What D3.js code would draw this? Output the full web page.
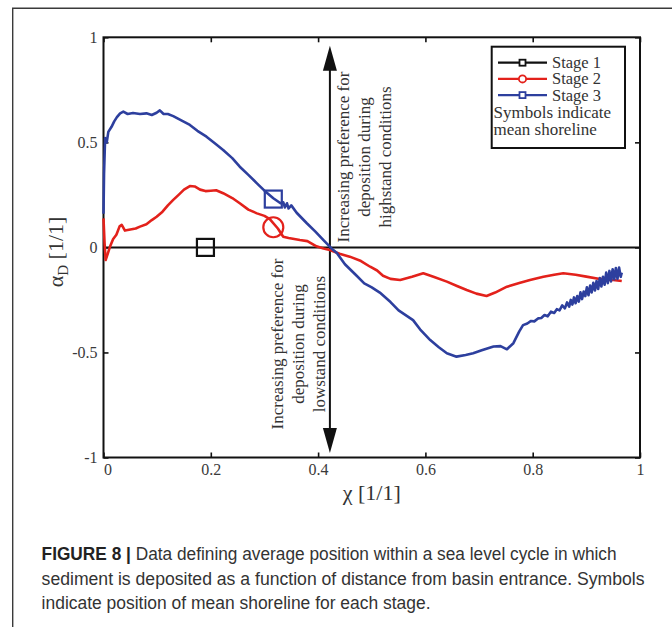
<!DOCTYPE html>
<html>
<head>
<meta charset="utf-8">
<script src="https://cdn.jsdelivr.net/npm/d3@7"></script>
<style>
  body { margin: 0; background: #fff; }
  svg { display: block; }
</style>
</head>
<body>
<div id="chart"></div>
<script>
// tick values
var xTicks = [0, 0.2, 0.4, 0.6, 0.8, 1];
var yTicks = [-1, -0.5, 0, 0.5, 1];

var stages = ["Stage 1", "Stage 2", "Stage 3"];
var stageColors = ["#111111", "#e3211b", "#2d3f9e"];

// Stage 1 sits on zero
var stage1X = [0, 1];
var stage1Y = [0, 0];

// Stage 2 (red)
var stage2X = [0.000, 0.002, 0.004, 0.008, 0.012, 0.018, 0.024, 0.030, 0.034, 0.040, 0.050, 0.060, 0.068, 0.080, 0.090,
  0.099, 0.110, 0.120, 0.130, 0.140, 0.150, 0.161, 0.170, 0.180, 0.190, 0.200, 0.210, 0.223, 0.240, 0.254,
  0.270, 0.286, 0.300, 0.310, 0.325, 0.335, 0.345, 0.366, 0.380, 0.397, 0.410, 0.422, 0.440, 0.459, 0.480,
  0.497, 0.510, 0.521, 0.535, 0.553, 0.575, 0.596, 0.615, 0.640, 0.660, 0.677, 0.695, 0.714, 0.730, 0.752,
  0.775, 0.795, 0.820, 0.840, 0.857, 0.880, 0.900, 0.925, 0.950, 0.966];
var stage2Y = [0.138, 0.020, -0.060, -0.030, 0.003, 0.040, 0.060, 0.100, 0.107, 0.080, 0.085, 0.090, 0.099, 0.110, 0.130,
  0.146, 0.170, 0.200, 0.226, 0.250, 0.275, 0.292, 0.290, 0.275, 0.268, 0.270, 0.272, 0.258, 0.235, 0.210,
  0.180, 0.162, 0.150, 0.135, 0.090, 0.051, 0.045, 0.035, 0.030, 0.005, -0.005, -0.012, -0.030, -0.044, -0.065,
  -0.092, -0.110, -0.135, -0.150, -0.155, -0.140, -0.123, -0.140, -0.163, -0.185, -0.203, -0.220, -0.231, -0.215, -0.187,
  -0.170, -0.155, -0.140, -0.130, -0.123, -0.130, -0.139, -0.150, -0.155, -0.160];

// Stage 3 (blue); noisy tail typed point by point
var stage3X = [0.000, 0.001, 0.003, 0.006, 0.009, 0.015, 0.020, 0.025, 0.031, 0.037, 0.045, 0.055, 0.068, 0.080, 0.090,
  0.099, 0.105, 0.112, 0.120, 0.130, 0.145, 0.161, 0.175, 0.192, 0.208, 0.223, 0.240, 0.254, 0.270, 0.286,
  0.300, 0.3165, 0.330, 0.335, 0.338, 0.342, 0.345, 0.350, 0.360, 0.379, 0.395, 0.410, 0.425, 0.435, 0.450,
  0.470, 0.486, 0.500, 0.515, 0.535, 0.550, 0.577, 0.590, 0.609, 0.625, 0.640, 0.658, 0.675, 0.689, 0.705,
  0.727, 0.740, 0.752, 0.764, 0.775, 0.782, 0.790, 0.797, 0.803, 0.810, 0.816, 0.822, 0.828, 0.834, 0.840,
  0.845, 0.850, 0.855, 0.860, 0.864, 0.868, 0.871, 0.874, 0.877, 0.880, 0.883, 0.886, 0.889, 0.892, 0.895,
  0.898, 0.901, 0.904, 0.907, 0.910, 0.913, 0.916, 0.919, 0.922, 0.925, 0.928, 0.931, 0.934, 0.937, 0.940,
  0.943, 0.946, 0.949, 0.952, 0.955, 0.958, 0.961, 0.964, 0.966];
var stage3Y = [0.160, 0.350, 0.520, 0.500, 0.550, 0.574, 0.600, 0.620, 0.638, 0.646, 0.635, 0.640, 0.635, 0.638, 0.630,
  0.641, 0.652, 0.635, 0.635, 0.625, 0.605, 0.583, 0.555, 0.527, 0.495, 0.464, 0.425, 0.384, 0.345, 0.305,
  0.270, 0.234, 0.210, 0.215, 0.190, 0.210, 0.185, 0.200, 0.165, 0.115, 0.075, 0.035, -0.005, -0.027, -0.080,
  -0.130, -0.171, -0.190, -0.215, -0.260, -0.300, -0.346, -0.390, -0.441, -0.475, -0.504, -0.520, -0.512, -0.504, -0.490,
  -0.472, -0.470, -0.485, -0.456, -0.400, -0.370, -0.362, -0.350, -0.352, -0.338, -0.336, -0.322, -0.328, -0.306, -0.312,
  -0.294, -0.300, -0.276, -0.290, -0.262, -0.282, -0.250, -0.272, -0.238, -0.266, -0.232, -0.258, -0.214, -0.246, -0.210,
  -0.232, -0.190, -0.228, -0.182, -0.214, -0.168, -0.205, -0.160, -0.198, -0.146, -0.186, -0.140, -0.178, -0.120, -0.170,
  -0.112, -0.162, -0.104, -0.152, -0.098, -0.150, -0.096, -0.140, -0.120];

// mean shoreline symbols
var shoreX = [0.19, 0.3165, 0.3165];
var shoreY = [0.0, 0.096, 0.23];
var shoreShape = ["square", "circle", "square"];

// arrow annotation
var arrowX = 0.422;
var arrowTop = 0.96;
var arrowBottom = -0.978;
var upperLines = ["Increasing preference for", "deposition during", "highstand conditions"];
var lowerLines = ["Increasing preference for", "deposition during", "lowstand conditions"];

var legendNote = ["Symbols indicate", "mean shoreline"];
var captionLines = [
  ["FIGURE 8 |", " Data defining average position within a sea level cycle in which"],
  ["", "sediment is deposited as a function of distance from basin entrance. Symbols"],
  ["", "indicate position of mean shoreline for each stage."]
];

var W = 672, H = 627;
var serif = "'Liberation Serif', 'Times New Roman', serif";

var svg = d3.select("#chart").append("svg")
  .attr("width", W).attr("height", H);

// figure frame
svg.append("path")
  .attr("d", "M12.7,627 L12.7,8.3 L672,8.3")
  .attr("fill", "none").attr("stroke", "#3a3a3a").attr("stroke-width", 1.4);

var x = d3.scaleLinear().domain([0, 1]).range([103.5, 640]);
var y = d3.scaleLinear().domain([-1, 1]).range([457.5, 37.3]);

var g = svg.append("g");

// axes with inward ticks
var fmt = function(d) { return String(d); };
g.append("g").attr("transform", "translate(0," + y(-1) + ")")
  .call(d3.axisBottom(x).tickValues(xTicks).tickSize(-5).tickPadding(6).tickFormat(fmt));
g.append("g").attr("transform", "translate(" + x(0) + ",0)")
  .call(d3.axisLeft(y).tickValues(yTicks).tickSize(-5).tickPadding(6).tickFormat(fmt));
g.append("g").attr("transform", "translate(0," + y(1) + ")")
  .call(d3.axisTop(x).tickValues(xTicks).tickSize(-5).tickFormat(""));
g.append("g").attr("transform", "translate(" + x(1) + ",0)")
  .call(d3.axisRight(y).tickValues(yTicks).tickSize(-5).tickFormat(""));

g.selectAll(".domain").remove();
g.selectAll(".tick line").attr("stroke", "#111").attr("stroke-width", 1.6);
g.selectAll(".tick text")
  .attr("font-family", serif).attr("font-size", 16).attr("fill", "#3a3a3a");
// the "0" on the x axis sits a little right of the corner
g.selectAll(".tick text").filter(function(d, i) { return d === 0 && this.getAttribute("y") > 0; })
  .attr("dx", 4);

// plot box
g.append("rect")
  .attr("x", x(0)).attr("y", y(1))
  .attr("width", x(1) - x(0)).attr("height", y(-1) - y(1))
  .attr("fill", "none").attr("stroke", "#111").attr("stroke-width", 2);

// vertical arrow
var ax = x(arrowX);
g.append("line")
  .attr("x1", ax).attr("x2", ax)
  .attr("y1", y(arrowTop) + 20).attr("y2", y(arrowBottom) - 20)
  .attr("stroke", "#111").attr("stroke-width", 2);
g.append("path")
  .attr("d", "M" + ax + "," + y(arrowTop) + " L" + (ax - 7) + "," + (y(arrowTop) + 25) + " L" + (ax + 7) + "," + (y(arrowTop) + 25) + "Z")
  .attr("fill", "#111");
g.append("path")
  .attr("d", "M" + ax + "," + y(arrowBottom) + " L" + (ax - 7) + "," + (y(arrowBottom) - 25) + " L" + (ax + 7) + "," + (y(arrowBottom) - 25) + "Z")
  .attr("fill", "#111");

function rotatedBlock(lines, x0, yc) {
  lines.forEach(function(t, i) {
    g.append("text")
      .attr("transform", "translate(" + (x0 + i * 21) + "," + yc + ") rotate(-90)")
      .attr("text-anchor", "middle")
      .attr("font-family", serif).attr("font-size", 17).attr("fill", "#333")
      .text(t);
  });
}
rotatedBlock(upperLines, 349, 157);
rotatedBlock(lowerLines, 283, 344);

// lines
var line = d3.line()
  .x(function(d) { return x(d[0]); })
  .y(function(d) { return y(d[1]); });

var series = [
  d3.zip(stage1X, stage1Y),
  d3.zip(stage2X, stage2Y),
  d3.zip(stage3X, stage3Y)
];
series.forEach(function(s, i) {
  g.append("path")
    .datum(s)
    .attr("d", line)
    .attr("fill", "none")
    .attr("stroke", stageColors[i])
    .attr("stroke-width", i === 0 ? 2 : 2.6)
    .attr("stroke-linejoin", "round");
});

// shoreline symbols
shoreX.forEach(function(v, i) {
  var cx = x(v), cy = y(shoreY[i]);
  if (shoreShape[i] === "circle") {
    g.append("circle").attr("cx", cx).attr("cy", cy).attr("r", 10)
      .attr("fill", "none").attr("stroke", stageColors[i]).attr("stroke-width", 2.2);
  } else {
    g.append("rect").attr("x", cx - 8.5).attr("y", cy - 8.5).attr("width", 17).attr("height", 17)
      .attr("fill", "none").attr("stroke", stageColors[i]).attr("stroke-width", 2.2);
  }
});

// legend
var lg = svg.append("g");
lg.append("rect").attr("x", 491.7).attr("y", 46.7).attr("width", 133.3).attr("height", 101.3)
  .attr("fill", "#fff").attr("stroke", "#111").attr("stroke-width", 2);
stages.forEach(function(s, i) {
  var ly = 62.7 + i * 16.2;
  lg.append("line").attr("x1", 498).attr("x2", 547).attr("y1", ly).attr("y2", ly)
    .attr("stroke", stageColors[i]).attr("stroke-width", 2.2);
  if (shoreShape[i] === "circle") {
    lg.append("circle").attr("cx", 522.5).attr("cy", ly).attr("r", 3.6)
      .attr("fill", "#fff").attr("stroke", stageColors[i]).attr("stroke-width", 1.8);
  } else {
    lg.append("rect").attr("x", 519.5).attr("y", ly - 3).attr("width", 6).attr("height", 6)
      .attr("fill", "#fff").attr("stroke", stageColors[i]).attr("stroke-width", 1.8);
  }
  lg.append("text").attr("x", 552).attr("y", ly + 5.5)
    .attr("font-family", serif).attr("font-size", 16.5).attr("fill", "#333")
    .text(s);
});
legendNote.forEach(function(t, i) {
  lg.append("text").attr("x", 493.5).attr("y", 117.5 + i * 17)
    .attr("font-family", serif).attr("font-size", 17).attr("fill", "#333")
    .text(t);
});

// axis titles
svg.append("text")
  .attr("x", (x(0) + x(1)) / 2).attr("y", 500)
  .attr("text-anchor", "middle")
  .attr("font-family", serif).attr("font-size", 22).attr("fill", "#333")
  .text("\u03c7 [1/1]");

var yl = svg.append("text")
  .attr("transform", "translate(63,252) rotate(-90)")
  .attr("text-anchor", "middle")
  .attr("font-family", serif).attr("font-size", 22).attr("fill", "#333");
yl.append("tspan").text("\u03b1");
yl.append("tspan").attr("font-size", 15).attr("dy", 5).text("D");
yl.append("tspan").attr("dy", -5).text(" [1/1]");

// caption
var capWidths = [575, 603, 389];
captionLines.forEach(function(c, i) {
  var t = svg.append("text")
    .attr("x", 41.6).attr("y", 560 + i * 24.5)
    .attr("font-family", "'Liberation Sans', Arial, sans-serif")
    .attr("font-size", 17.5).attr("fill", "#333")
    .attr("textLength", capWidths[i]).attr("lengthAdjust", "spacingAndGlyphs");
  if (c[0]) t.append("tspan").attr("font-weight", "bold").attr("fill", "#222").text(c[0]);
  t.append("tspan").text(c[1]);
});
</script>
</body>
</html>
